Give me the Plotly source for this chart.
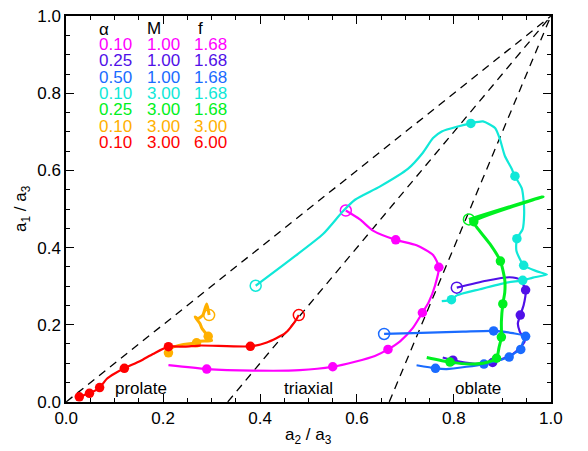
import plotly.graph_objects as go

# ---------------- data (a2/a3, a1/a3) ----------------
mag_x = [0.577, 0.606, 0.633, 0.680, 0.723, 0.757, 0.769, 0.761, 0.748, 0.735, 0.715, 0.689, 0.664, 0.637, 0.596, 0.550, 0.482, 0.386, 0.290, 0.211]
mag_y = [0.496, 0.473, 0.444, 0.420, 0.406, 0.381, 0.349, 0.301, 0.258, 0.231, 0.191, 0.157, 0.136, 0.119, 0.104, 0.091, 0.082, 0.081, 0.085, 0.095]
mag_dots = [3, 6, 9, 12, 15, 18]

vio_x = [0.806, 0.867, 0.915, 0.936, 0.948, 0.944, 0.937, 0.932, 0.936, 0.946, 0.936, 0.922, 0.880, 0.839, 0.798, 0.777]
vio_y = [0.296, 0.314, 0.323, 0.317, 0.290, 0.251, 0.225, 0.203, 0.182, 0.157, 0.140, 0.124, 0.102, 0.099, 0.108, 0.115]
vio_dots = [4, 6, 12, 14]

blu_x = [0.656, 0.715, 0.819, 0.882, 0.922, 0.948, 0.942, 0.938, 0.926, 0.914, 0.888, 0.862, 0.826, 0.785, 0.762, 0.723]
blu_y = [0.176, 0.178, 0.182, 0.184, 0.178, 0.170, 0.153, 0.136, 0.127, 0.116, 0.106, 0.098, 0.091, 0.085, 0.087, 0.095]
blu_dots = [3, 5, 7, 9, 11, 14]

cya_x = [0.391, 0.462, 0.530, 0.571, 0.596, 0.647, 0.705, 0.736, 0.757, 0.775, 0.808, 0.835, 0.860, 0.885, 0.895, 0.905, 0.919, 0.926, 0.940, 0.944, 0.945, 0.942, 0.930, 0.929, 0.944, 0.970, 0.992, 0.963, 0.942, 0.909, 0.854, 0.806, 0.795, 0.775]
cya_y = [0.301, 0.368, 0.435, 0.494, 0.524, 0.558, 0.604, 0.646, 0.684, 0.701, 0.714, 0.722, 0.727, 0.710, 0.681, 0.638, 0.605, 0.585, 0.554, 0.520, 0.486, 0.448, 0.423, 0.392, 0.354, 0.339, 0.330, 0.322, 0.315, 0.309, 0.292, 0.276, 0.265, 0.261]
cya_dots = [11, 17, 22, 24, 28, 32]

grn_x = [0.831, 0.984, 0.841, 0.847, 0.874, 0.896, 0.905, 0.905, 0.901, 0.898, 0.898, 0.893, 0.888, 0.867, 0.833, 0.792, 0.744]
grn_y = [0.473, 0.532, 0.467, 0.453, 0.410, 0.365, 0.316, 0.284, 0.254, 0.208, 0.168, 0.140, 0.113, 0.102, 0.098, 0.103, 0.115]
grn_dots = [2, 5, 8, 10, 12, 15]

org_x = [0.295, 0.290, 0.282, 0.272, 0.266, 0.276, 0.280, 0.293, 0.300, 0.273, 0.269, 0.242, 0.218, 0.211, 0.214]
org_y = [0.225, 0.254, 0.225, 0.216, 0.220, 0.203, 0.191, 0.170, 0.159, 0.157, 0.153, 0.149, 0.140, 0.127, 0.119]
org_dots = [7, 10, 13]

red_x = [0.480, 0.472, 0.452, 0.414, 0.380, 0.276, 0.245, 0.211, 0.179, 0.153, 0.120, 0.101, 0.084, 0.069, 0.048, 0.027]
red_y = [0.225, 0.208, 0.178, 0.154, 0.144, 0.146, 0.143, 0.143, 0.124, 0.106, 0.087, 0.074, 0.060, 0.037, 0.022, 0.013]
red_dots = [4, 7, 10, 13, 14, 15]

alpha_vals = ["0.10", "0.25", "0.50", "0.10", "0.25", "0.10", "0.10"]
M_vals = ["1.00", "1.00", "1.00", "3.00", "3.00", "3.00", "3.00"]
f_vals = ["1.68", "1.68", "1.68", "1.68", "1.68", "3.00", "6.00"]

# dashed boundaries: prolate/triaxial and triaxial/oblate
bnd1_x = [0.0, 1.0]; bnd1_y = [0.0, 1.0]
bnd2_x = [1/3, 1.0]; bnd2_y = [0.0, 1.0]
bnd3_x = [2/3, 1.0]; bnd3_y = [0.0, 1.0]

tick_vals = [0.0, 0.2, 0.4, 0.6, 0.8, 1.0]
tick_text = ["0.0", "0.2", "0.4", "0.6", "0.8", "1.0"]

# ---------------- styles ----------------
FONT = "Liberation Sans, Arial, Helvetica, sans-serif"
series = [
    (mag_x, mag_y, mag_dots, "#FF00FF"),
    (vio_x, vio_y, vio_dots, "#5010E8"),
    (blu_x, blu_y, blu_dots, "#1A6BFF"),
    (cya_x, cya_y, cya_dots, "#10E8D8"),
    (grn_x, grn_y, grn_dots, "#00F020"),
    (org_x, org_y, org_dots, "#FFB000"),
    (red_x, red_y, red_dots, "#FF0000"),
]

fig = go.Figure()
for bx, by in [(bnd1_x, bnd1_y), (bnd2_x, bnd2_y), (bnd3_x, bnd3_y)]:
    fig.add_trace(go.Scatter(x=bx, y=by, mode="lines",
                             line=dict(color="black", width=1.3, dash="8px,6px"),
                             hoverinfo="skip", showlegend=False, cliponaxis=True))

for sx, sy, dots, col in series:
    w = 3 if col in ("#FFB000", "#00F020") else 2.2
    fig.add_trace(go.Scatter(x=sx, y=sy, mode="lines",
                             line=dict(color=col, width=w, shape="spline", smoothing=0.6),
                             showlegend=False))
    fig.add_trace(go.Scatter(x=[sx[i] for i in dots], y=[sy[i] for i in dots], mode="markers",
                             marker=dict(color=col, size=9.5, symbol="circle"),
                             showlegend=False))
    fig.add_trace(go.Scatter(x=[sx[0]], y=[sy[0]], mode="markers",
                             marker=dict(color=col, size=11, symbol="circle-open", line=dict(width=1.5, color=col)),
                             showlegend=False))

# ---------------- text ----------------
def px2x(px):
    return (px - 66) / 485.0

def px2y(py):
    return (402 - py) / 395.0

ann = []
ann.append(dict(x=px2x(97), y=px2y(21), text="α", xanchor="left", yanchor="middle"))
ann.append(dict(x=px2x(145), y=px2y(20), text="M", xanchor="left", yanchor="middle"))
ann.append(dict(x=px2x(200), y=px2y(20), text="f", xanchor="center", yanchor="middle"))
for i, (_, _, _, col) in enumerate(series):
    yy = px2y(36 + 16.7 * i)
    ann.append(dict(x=px2x(97), y=yy, text=alpha_vals[i], xanchor="left", yanchor="middle", font=dict(color=col)))
    ann.append(dict(x=px2x(145), y=yy, text=M_vals[i], xanchor="left", yanchor="middle", font=dict(color=col)))
    ann.append(dict(x=px2x(192), y=yy, text=f_vals[i], xanchor="left", yanchor="middle", font=dict(color=col)))

ann.append(dict(x=px2x(140.5), y=px2y(388), text="prolate", xanchor="center", yanchor="middle"))
ann.append(dict(x=px2x(308), y=px2y(388), text="triaxial", xanchor="center", yanchor="middle"))
ann.append(dict(x=px2x(478.5), y=px2y(388), text="oblate", xanchor="center", yanchor="middle"))

for a in ann:
    a.setdefault("font", {})
    a["font"].setdefault("color", "black")
    a["font"]["size"] = 17
    a["font"]["family"] = FONT
    a["showarrow"] = False
    a["xref"] = "x"
    a["yref"] = "y"

ann.append(dict(x=0.5, y=(402 - 437) / 395.0, xref="paper", yref="paper", text="a<sub>2</sub> / a<sub>3</sub>",
                showarrow=False, xanchor="center", yanchor="middle", font=dict(size=17, family=FONT, color="black")))
ann.append(dict(x=(22 - 66) / 485.0, y=0.5, xref="paper", yref="paper", text="a<sub>1</sub> / a<sub>3</sub>", textangle=-90,
                showarrow=False, xanchor="center", yanchor="middle", font=dict(size=17, family=FONT, color="black")))

axis_common = dict(range=[-0.0004, 1.0004], showgrid=False, zeroline=False, showline=True, linecolor="black", linewidth=1.5,
                   mirror="allticks", ticks="inside", ticklen=8, tickwidth=1.2, tickcolor="black",
                   tickvals=tick_vals, ticktext=tick_text,
                   tickfont=dict(size=17, family=FONT, color="black"),
                   minor=dict(dtick=0.05, tick0=0, ticks="inside", ticklen=4, tickwidth=1, tickcolor="black"))

fig.update_layout(width=588, height=451, margin=dict(l=66, r=37, t=7, b=49),
                  paper_bgcolor="white", plot_bgcolor="white", annotations=ann,
                  xaxis=axis_common, yaxis=axis_common)
fig.write_html("out.html")
